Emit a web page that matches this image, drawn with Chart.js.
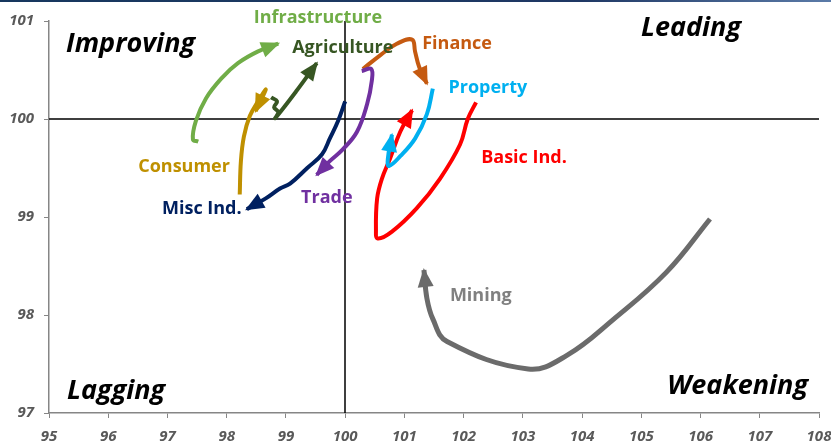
<!DOCTYPE html>
<html>
<head>
<meta charset="utf-8">
<script src="https://cdn.jsdelivr.net/npm/chart.js@4.4.1/dist/chart.umd.min.js"></script>
<style>
  html,body{margin:0;padding:0;background:#fff;}
  #wrap{position:relative;width:831px;height:443px;overflow:hidden;}
  #topbar{position:absolute;left:0;top:0;width:831px;height:2px;background:linear-gradient(90deg,#17375e,#1f3864 70%,#5b7ba8);}
</style>
</head>
<body>
<div id="wrap"><canvas id="rrg" width="831" height="443"></canvas><div id="topbar"></div></div>
<script>
/* ═══════════════════════════════════════
   Sector rotation (RRG) – tails oldest → latest
═══════════════════════════════════════ */

const X_TICKS = [95,96,97,98,99,100,101,102,103,104,105,106,107,108];
const Y_TICKS = [97,98,99,100,101];
const QUADRANTS = ['Improving','Leading','Lagging','Weakening'];

const infraX   = [97.52,97.43,97.48,97.65,97.92,98.19,98.53,98.87];
const infraY   = [99.77,99.79,99.98,100.21,100.42,100.57,100.69,100.77];
const agriX    = [98.75,98.85,98.80,98.87,98.82,99.17,99.52];
const agriY    = [100.22,100.18,100.12,100.07,100.01,100.28,100.57];
const consX    = [98.22,98.24,98.29,98.39,98.53,98.66,98.49];
const consY    = [99.23,99.57,99.82,100.03,100.18,100.30,100.08];
const miscX    = [100.00,99.88,99.74,99.61,99.36,99.07,98.90,98.66,98.34];
const miscY    = [100.18,99.98,99.80,99.64,99.50,99.34,99.29,99.19,99.08];
const tradeX   = [100.28,100.44,100.45,100.37,100.20,99.96,99.74,99.52];
const tradeY   = [100.49,100.51,100.39,100.15,99.87,99.69,99.57,99.43];
const finX     = [100.30,100.59,100.88,101.13,101.18,101.25,101.38];
const finY     = [100.51,100.65,100.77,100.81,100.69,100.53,100.36];
const propX    = [101.48,101.38,101.18,100.93,100.74,100.72,100.79];
const propY    = [100.31,100.05,99.80,99.62,99.52,99.59,99.84];
const basicX   = [102.21,102.07,101.94,101.60,101.21,100.79,100.55,100.52,100.54,100.62,100.76,100.93,101.13];
const basicY   = [100.17,100.00,99.74,99.39,99.09,98.85,98.78,98.87,99.19,99.39,99.60,99.87,100.09];
const miningX  = [106.16,105.43,104.52,103.75,103.09,101.72,101.48,101.38,101.33];
const miningY  = [98.98,98.44,97.95,97.59,97.45,97.73,97.96,98.17,98.46];

/* ── styling / label anchors ── */
const SERIES = [
  { name:'Infrastructure', xs:infraX,  ys:infraY,  color:'#70AD47', w:4, lbl:[99.54,101.03] },
  { name:'Agriculture',    xs:agriX,   ys:agriY,   color:'#375623', w:4, lbl:[99.96,100.73] },
  { name:'Consumer',       xs:consX,   ys:consY,   color:'#BF9000', w:4, lbl:[97.28,99.51] },
  { name:'Misc Ind.',      xs:miscX,   ys:miscY,   color:'#002060', w:4, lbl:[97.58,99.08] },
  { name:'Trade',          xs:tradeX,  ys:tradeY,  color:'#7030A0', w:4, lbl:[99.69,99.20] },
  { name:'Finance',        xs:finX,    ys:finY,    color:'#C55A11', w:4, lbl:[101.89,100.77] },
  { name:'Property',       xs:propX,   ys:propY,   color:'#00B0F0', w:4, lbl:[102.41,100.32] },
  { name:'Basic Ind.',     xs:basicX,  ys:basicY,  color:'#FF0000', w:4, lbl:[103.02,99.60] },
  { name:'Mining',         xs:miningX, ys:miningY, color:'#6B6B6B', w:5, lbl:[102.29,98.20], lblColor:'#808080' },
];

const FONT = "'Open Sans', 'Noto Sans', sans-serif";
const AXIS = '#868686';

const rrgPlugin = {
  id:'rrg',
  beforeDatasetsDraw(chart){
    const {ctx, chartArea:a, scales:{x,y}} = chart;
    ctx.save();
    ctx.strokeStyle = '#000'; ctx.lineWidth = 1.5;
    const cx = Math.round(x.getPixelForValue(100)), cy = Math.round(y.getPixelForValue(100));
    ctx.beginPath();
    ctx.moveTo(cx, a.top); ctx.lineTo(cx, a.bottom);
    ctx.moveTo(a.left, cy); ctx.lineTo(a.right, cy);
    ctx.stroke();
    // quadrant names
    ctx.fillStyle = '#000';
    ctx.font = `italic bold 27px ${FONT}`;
    ctx.textBaseline = 'middle';
    ctx.textAlign = 'left';  ctx.fillText(QUADRANTS[0], a.left + 17, a.top + 23);
    ctx.textAlign = 'right'; ctx.fillText(QUADRANTS[1], a.right - 78, a.top + 7);
    ctx.textAlign = 'left';  ctx.fillText(QUADRANTS[2], a.left + 18, a.bottom - 22);
    ctx.textAlign = 'right'; ctx.fillText(QUADRANTS[3], a.right - 11, a.bottom - 27);
    ctx.restore();
  },
  afterDatasetsDraw(chart){
    const {ctx, scales:{x,y}} = chart;
    ctx.save();
    chart.data.datasets.forEach((ds,i) => {
      const pts = chart.getDatasetMeta(i).data;
      const tip = pts[pts.length-1], prev = pts[pts.length-2];
      const ang = Math.atan2(tip.y - prev.y, tip.x - prev.x);
      const L = 17, W = 16;
      ctx.save();
      ctx.fillStyle = ds.borderColor;
      ctx.translate(tip.x, tip.y); ctx.rotate(ang);
      ctx.beginPath(); ctx.moveTo(2,0); ctx.lineTo(-L, -W/2); ctx.lineTo(-L, W/2); ctx.closePath();
      ctx.fill();
      ctx.restore();
      const s = SERIES[i];
      ctx.fillStyle = s.lblColor || s.color;
      ctx.font = `bold 18px ${FONT}`;
      ctx.textAlign = 'center'; ctx.textBaseline = 'middle';
      ctx.fillText(s.name, x.getPixelForValue(s.lbl[0]), y.getPixelForValue(s.lbl[1]));
    });
    ctx.restore();
  }
};

const tickFont = { family:FONT, size:15, style:'italic', weight:'bold' };

new Chart(document.getElementById('rrg').getContext('2d'), {
  type:'scatter',
  data:{
    datasets: SERIES.map(s => ({
      label:s.name,
      data:s.xs.map((v,k) => ({x:v, y:s.ys[k]})),
      showLine:true, borderColor:s.color, backgroundColor:s.color,
      borderWidth:s.w, tension:0.4, pointRadius:0, pointHoverRadius:0,
      borderCapStyle:'butt', borderJoinStyle:'round', clip:false
    }))
  },
  options:{
    responsive:false, animation:false, devicePixelRatio:1,
    layout:{ padding:{ top:21, right:12, left:0, bottom:0 } },
    plugins:{ legend:{display:false}, tooltip:{enabled:false} },
    scales:{
      x:{
        type:'linear', min:95, max:108,
        afterBuildTicks:s => { s.ticks = X_TICKS.map(v => ({value:v})); },
        afterFit:s => { s.height = 30; s.paddingLeft = 0; s.paddingRight = 0; },
        grid:{ drawOnChartArea:false, drawTicks:true, tickLength:5, color:AXIS },
        border:{ color:AXIS, width:1.5 },
        ticks:{ color:'#595959', font:tickFont, padding:10, maxRotation:0, autoSkip:false }
      },
      y:{
        type:'linear', min:97, max:101,
        afterBuildTicks:s => { s.ticks = Y_TICKS.map(v => ({value:v})); },
        afterFit:s => { s.width = 49; s.paddingTop = 0; s.paddingBottom = 0; },
        grid:{ drawOnChartArea:false, drawTicks:true, tickLength:5, color:AXIS },
        border:{ color:AXIS, width:1.5 },
        ticks:{ color:'#595959', font:tickFont, padding:10 }
      }
    }
  },
  plugins:[rrgPlugin]
});
</script>
</body>
</html>
